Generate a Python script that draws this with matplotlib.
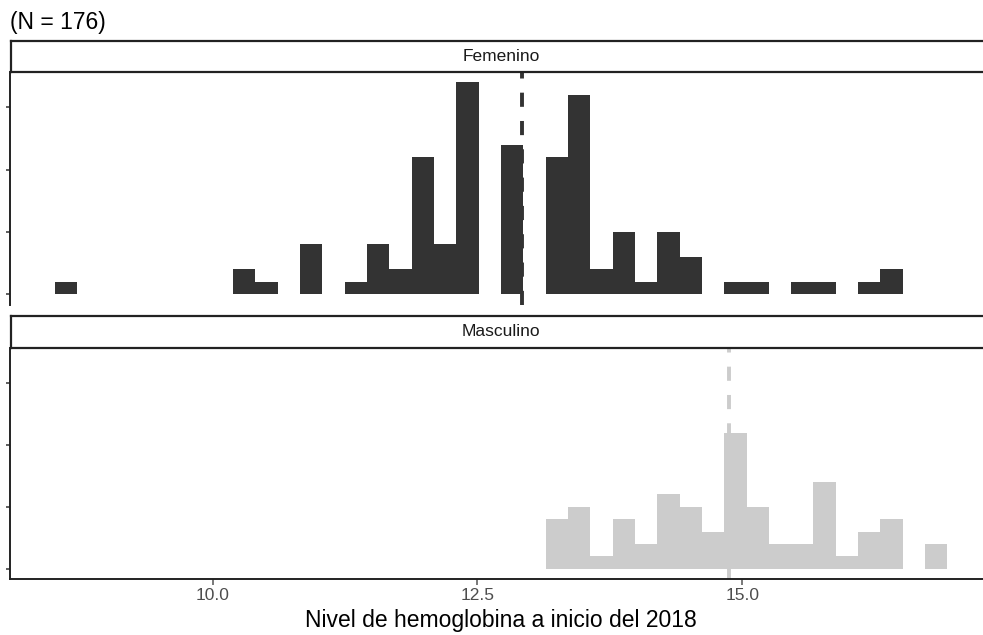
import numpy as np
from matplotlib import pyplot as plt

plt.rcParams['font.family'] = ['Liberation Sans', 'DejaVu Sans']

# histograma: 40 bins, centros desde 8.615 hasta 16.83
hb_min = 8.615
hb_max = 16.83
n_bins = 40

femenino = [1, 0, 0, 0, 0, 0, 0, 0, 2, 1,
            0, 4, 0, 1, 4, 2, 11, 4, 17, 0,
            12, 0, 11, 16, 2, 5, 1, 5, 3, 0,
            1, 1, 0, 1, 1, 0, 1, 2, 0, 0]
masculino = [0, 0, 0, 0, 0, 0, 0, 0, 0, 0,
             0, 0, 0, 0, 0, 0, 0, 0, 0, 0,
             0, 0, 4, 5, 1, 4, 2, 6, 5, 3,
             11, 5, 2, 2, 7, 1, 3, 4, 0, 2]
media_fem = 12.92
media_masc = 14.87

paneles = ['Femenino', 'Masculino']
colores = ['#333333', '#CCCCCC']
x_ticks = [10.0, 12.5, 15.0]
x_labels = ['10.0', '12.5', '15.0']
y_ticks = [0, 5, 10, 15]

w = (hb_max - hb_min) / (n_bins - 1)
bordes = hb_min - w / 2 + np.arange(n_bins) * w

W, H = 983, 635
fig = plt.figure(figsize=(W / 100, H / 100), dpi=100)

def px(x0, y0, x1, y1):
    return [x0 / W, 1 - y1 / H, (x1 - x0) / W, (y1 - y0) / H]

# posiciones en pixeles (panel, strip)
pos_panel = [px(10, 71.7, 992, 305), px(10, 347.7, 992, 579.3)]
pos_strip = [px(10.5, 40.7, 992, 71.7), px(10.5, 316, 992, 347.7)]

datos = [femenino, masculino]
medias = [media_fem, media_masc]
xlim = (hb_min - w / 2 - 0.421, hb_max + w / 2 + 0.421)
ymax = max(max(femenino), max(masculino))

for i in range(2):
    ax = fig.add_axes(pos_panel[i])
    ax.bar(bordes, datos[i], width=w, align='edge', color=colores[i], linewidth=0)
    ax.axvline(medias[i], color=colores[i], linewidth=2.8, linestyle=(0, (3.64, 3.64)))
    ax.set_xlim(xlim)
    ax.set_ylim(-0.05 * ymax, ymax * 1.05)
    ax.set_yticks(y_ticks)
    ax.set_yticklabels([])
    ax.tick_params(axis='y', length=3, width=1.1, color='#333333')
    for s in ['top', 'right']:
        ax.spines[s].set_visible(False)
    ax.spines['left'].set_linewidth(1.4)
    ax.spines['left'].set_color('#222222')
    if i == 0:
        ax.spines['bottom'].set_visible(False)
        ax.set_xticks([])
    else:
        ax.spines['bottom'].set_linewidth(1.4)
        ax.spines['bottom'].set_color('#222222')
        ax.set_xticks(x_ticks)
        ax.set_xticklabels(x_labels)
        ax.tick_params(axis='x', length=4, width=1.1, color='#555555',
                       labelsize=12.5, labelcolor='#4D4D4D', pad=2.5)

    st = fig.add_axes(pos_strip[i])
    st.set_xticks([])
    st.set_yticks([])
    for s in st.spines.values():
        s.set_linewidth(1.6)
        s.set_color('#222222')
    st.text(0.5, 0.5, paneles[i], ha='center', va='center', fontsize=12.5,
            color='#1A1A1A', transform=st.transAxes)

fig.text(10 / W, 1 - 22 / H, '(N = 176)', ha='left', va='center', fontsize=16.5)
fig.text(501 / W, 1 - 626.7 / H, 'Nivel de hemoglobina a inicio del 2018',
         ha='center', va='baseline', fontsize=16.5)

plt.savefig('out.png', dpi=100)
